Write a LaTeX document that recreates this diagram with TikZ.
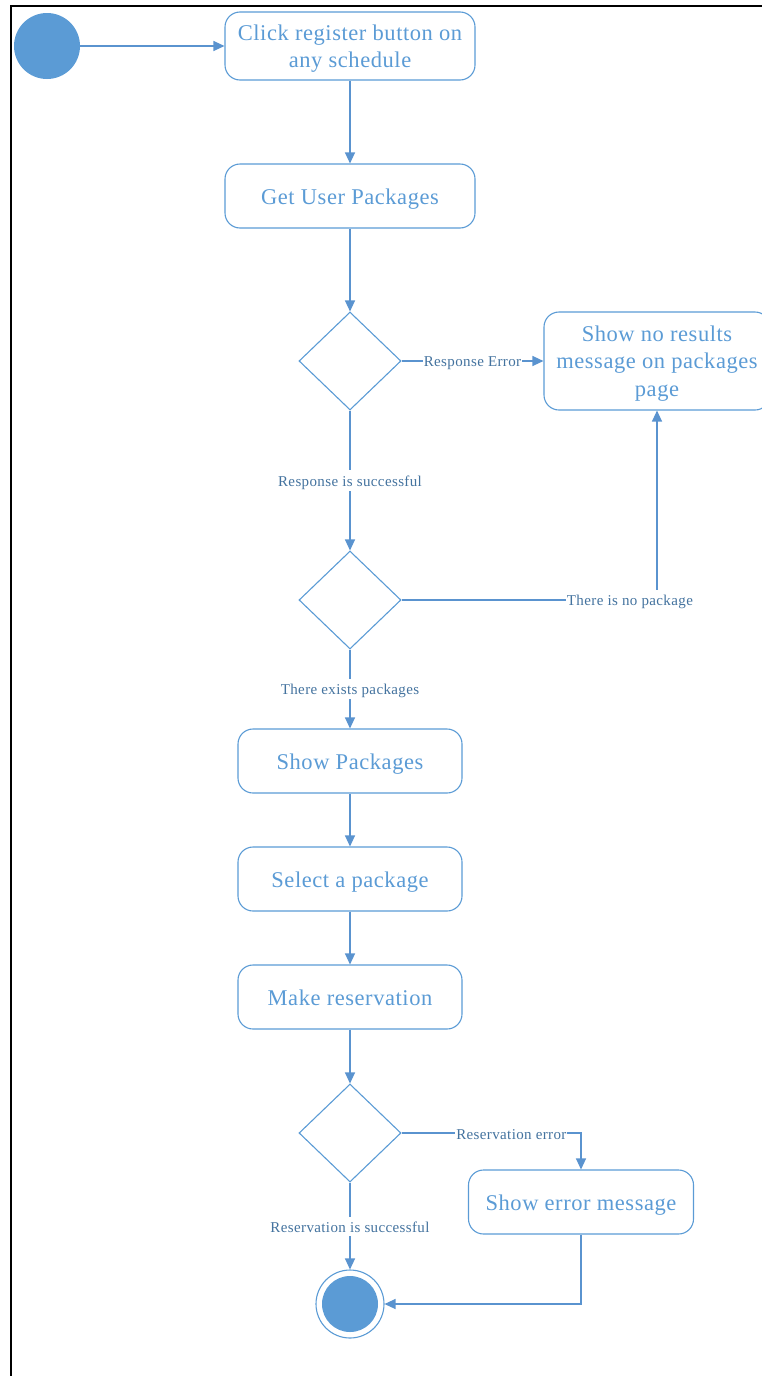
\documentclass[tikz,border=0pt]{standalone}
\usepackage{fontspec}
\setmainfont[LetterSpace=2.5]{Liberation Serif}
\usetikzlibrary{shapes.geometric,arrows.meta}
\definecolor{flowblue}{HTML}{5B9BD5}
\definecolor{lineblue}{HTML}{5A93CF}
\definecolor{labelblue}{HTML}{44739F}
% invisible struts that fix the vertical placement of node text
\newcommand\actstrut{\rule[-4.5pt]{0pt}{26pt}}
\newcommand\firststrut{\rule{0pt}{20.5pt}}
\newcommand\guardstrut{\rule[-2pt]{0pt}{17pt}}
\begin{document}
\begin{tikzpicture}[x=1pt,y=-1pt,
  action/.style={draw=flowblue, line width=1.1pt, rounded corners=15pt,
    text=flowblue, align=center, inner sep=2pt,
    font=\fontsize{22.5}{27.5}\selectfont,
    execute at begin node=\actstrut, execute at end node=\actstrut},
  decision/.style={diamond, draw=flowblue, line width=1.1pt, inner sep=0pt,
    minimum width=102pt, minimum height=98pt},
  flow/.style={draw=lineblue, line width=1.2pt,
    -{Triangle[length=11pt,width=10pt]}},
  guard/.style={fill=white, text=labelblue, inner sep=1pt,
    font=\fontsize{15}{18}\selectfont,
    execute at begin node=\guardstrut},
]
\useasboundingbox (0,0) rectangle (762,1376);
\clip (0,0) rectangle (762,1376);
% page frame
\draw[black, line width=2pt] (11,1380) -- (11,6) -- (770,6);

% activities
\node[circle, fill=flowblue, minimum size=66pt, inner sep=0pt] (start) at (47,46) {};
\node[action, minimum width=250pt, minimum height=68pt] (click) at (350,46)
  {\firststrut Click register button on\\any schedule};
\node[action, minimum width=250pt, minimum height=64pt] (getpk) at (350,196)
  {Get User Packages};
\node[decision] (d1) at (350,361) {};
\node[action, minimum width=226pt, minimum height=98pt] (nores) at (657,361)
  {\firststrut Show no results\\message on packages\\page};
\node[decision] (d2) at (350,600) {};
\node[action, minimum width=224pt, minimum height=64pt] (showpk) at (350,761)
  {Show Packages};
\node[action, minimum width=224pt, minimum height=64pt] (select) at (350,879)
  {Select a package};
\node[action, minimum width=224pt, minimum height=64pt] (reserve) at (350,997)
  {Make reservation};
\node[decision] (d3) at (350,1133) {};
\node[action, minimum width=225pt, minimum height=64pt] (err) at (581,1202)
  {Show error message};
\node[circle, draw=flowblue, line width=1.1pt, minimum size=68pt, inner sep=0pt,
  path picture={\fill[flowblue] (path picture bounding box.center) circle (28pt);}]
  (end) at (350,1304) {};

% transitions
\draw[flow] (start) -- (click);
\draw[flow] (click) -- (getpk);
\draw[flow] (getpk) -- (d1);
\draw[flow] (d1.east) -- node[guard] {Response Error} (nores.west);
\draw[flow] (d1.south) -- node[guard] {Response is successful} (d2.north);
\draw[flow] (d2.east) -| node[guard, pos=0.447] {There is no package} (nores.south);
\draw[flow] (d2.south) -- node[guard] {There exists packages} (showpk.north);
\draw[flow] (showpk) -- (select);
\draw[flow] (select) -- (reserve);
\draw[flow] (reserve) -- (d3);
\draw[flow] (d3.east) -| node[guard, pos=0.306] {Reservation error} (err.north);
\draw[flow] (d3.south) -- node[guard] {Reservation is successful} (end.north);
\draw[flow] (err.south) |- (end.east);
\end{tikzpicture}
\end{document}
